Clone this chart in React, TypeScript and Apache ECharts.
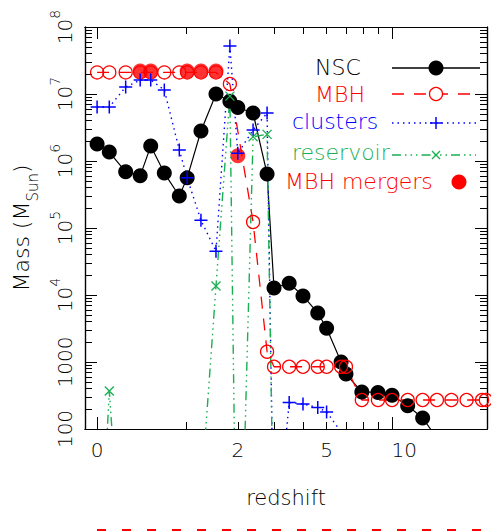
import React, { useEffect, useRef } from "react";
import * as echarts from "echarts";

// Redshift of each snapshot and masses in solar masses
const nscRedshift = [0, 0.1, 0.25, 0.4, 0.52, 0.69, 0.9, 1.02, 1.25, 1.53, 1.82, 2.0, 2.38, 2.77, 2.98, 3.48, 3.99, 4.6, 5.0, 5.72, 5.98, 6.9, 7.96, 9.0, 10.3, 11.7, 13.3];
const nscMass = [1.8e6, 1.36e6, 6.9e5, 6.0e5, 1.67e6, 6.6e5, 3.0e5, 5.6e5, 2.8e6, 1.0e7, 7.8e6, 6.3e6, 5.2e6, 6.4e5, 1.27e4, 1.5e4, 9.7e3, 5.4e3, 3.2e3, 1000, 660, 357, 352, 320, 222, 146, 70];

const mbhRedshift = [0, 0.1, 0.25, 0.4, 0.52, 0.69, 0.9, 1.02, 1.25, 1.53, 1.82, 2.38, 2.77, 2.98, 3.48, 3.99, 4.6, 5.0, 5.72, 5.98, 6.9, 7.96, 9.0, 10.3, 11.7, 13.2, 14.9, 16.9, 19.2, 19.8];
const mbhMass = [2.1e7, 2.1e7, 2.1e7, 2.1e7, 2.1e7, 2.1e7, 2.1e7, 2.1e7, 2.1e7, 2.1e7, 1.41e7, 1.23e5, 1425, 850, 850, 850, 850, 850, 850, 850, 271, 271, 271, 271, 271, 271, 271, 271, 271, 271];

const clusterRedshift = [0, 0.1, 0.25, 0.4, 0.52, 0.69, 0.9, 1.02, 1.25, 1.53, 1.82, 2.0, 2.38, 2.77, 2.98, 3.48, 3.99, 4.6, 5.0, 5.72];
const clusterMass = [6.4e6, 6.4e6, 1.27e7, 1.62e7, 1.62e7, 1.15e7, 1.46e6, 5.6e5, 1.3e5, 4.5e4, 5.2e7, 1.3e6, 2.9e6, 5.2e6, 1, 249, 236, 209, 180, 90];

const reservoirRedshift = [0, 0.1, 0.25, 0.4, 0.52, 0.69, 0.9, 1.02, 1.25, 1.53, 1.82, 2.0, 2.38, 2.77, 2.98];
const reservoirMass = [0.1, 369, 0.1, 0.01, 0.01, 0.01, 0.01, 0.01, 10, 1.36e4, 9.3e6, 0.01, 2.3e6, 2.5e6, 1];

const mergerRedshift = [0.4, 0.52, 1.02, 1.25, 1.53, 2.0];
const mergerMass = [2.2e7, 2.2e7, 2.2e7, 2.2e7, 2.2e7, 1.2e6];

const xTickLabelRedshifts = [0, 2, 5, 10];
const xMinorOnePlusZ = [2, 3, 4, 5, 6, 7, 8, 9];
const xMajorOnePlusZ = [1, 10];
const yLabelExponents = [2, 3, 4, 5, 6, 7, 8];
const yMinorMantissas = [2, 3, 4, 5, 6, 7, 8, 9];

const FONT = "DejaVu Sans";
const FW = 200;
const INK = "#000000";
const RED = "#ff0000";
const BLUE = "#0000ff";
const GREEN = "#18b052";

const lx = (z: number) => Math.log10(1 + z);
const ly = (m: number) => Math.log10(m);
const pairs = (zs: number[], ms: number[]) => zs.map((z, i) => [lx(z), ly(ms[i])]);

const X_MIN = -0.041;
const X_MAX = 1.322;
const Y_MIN = 2;
const Y_MAX = 8;

const xMinor = xMinorOnePlusZ.map((v) => Math.log10(v));
const xMajor = xMajorOnePlusZ.map((v) => Math.log10(v));
const xLabelVals = xTickLabelRedshifts.map(lx);
const yMajor = yLabelExponents.slice();
const yMinor: number[] = [];
for (let n = Y_MIN; n < Y_MAX; n++) for (const k of yMinorMantissas) yMinor.push(n + Math.log10(k));

const axisLineStyle = { color: "#000", width: 1.2 };

function xAxisDef(pos: string, ticks: number[], len: number, main: boolean) {
  const a: any = {
    type: "value",
    position: pos,
    min: X_MIN,
    max: X_MAX,
    axisLine: { show: true, onZero: false, lineStyle: axisLineStyle },
    axisTick: { show: true, inside: true, length: len, customValues: ticks, lineStyle: { color: "#000", width: 1 } },
    axisLabel: { show: false },
    splitLine: { show: false },
  };
  if (main) {
    a.axisLabel = {
      show: true,
      customValues: xLabelVals,
      formatter: (v: number) => {
        const i = xLabelVals.findIndex((t) => Math.abs(t - v) < 1e-6);
        return i >= 0 ? String(xTickLabelRedshifts[i]) : "";
      },
      margin: 11,
      fontSize: 20,
      fontWeight: FW,
      fontFamily: FONT,
      color: INK,
    };
    a.name = "redshift";
    a.nameLocation = "middle";
    a.nameGap = 58;
    a.nameTextStyle = { fontSize: 21, fontWeight: FW, fontFamily: FONT, color: INK };
  }
  return a;
}

function yAxisDef(pos: string, ticks: number[], len: number, main: boolean) {
  const a: any = {
    type: "value",
    position: pos,
    min: Y_MIN,
    max: Y_MAX,
    axisLine: { show: true, onZero: false, lineStyle: axisLineStyle },
    axisTick: { show: true, inside: true, length: len, customValues: ticks, lineStyle: { color: "#000", width: 1 } },
    axisLabel: { show: false },
    splitLine: { show: false },
  };
  if (main) {
    a.axisLabel = {
      show: true,
      customValues: yMajor,
      rotate: 90,
      margin: 10,
      formatter: (v: number) => {
        const e = Math.round(v);
        if (e <= 3) return "{b|" + String(Math.pow(10, e)) + "}";
        return "{b|10}{s|" + e + "}";
      },
      rich: {
        b: { fontSize: 20, fontWeight: FW, lineHeight: 27, verticalAlign: "bottom", fontFamily: FONT, color: INK },
        s: { fontSize: 14, fontWeight: FW, lineHeight: 16, verticalAlign: "top", fontFamily: FONT, color: INK },
      },
    };
    a.name = "{m|Mass (M}{u|Sun}{m|)}";
    a.nameLocation = "middle";
    a.nameRotate = 90;
    a.nameGap = 40;
    a.nameTextStyle = {
      rich: {
        m: { fontSize: 22, fontWeight: FW, lineHeight: 30, verticalAlign: "top", fontFamily: FONT, color: INK },
        u: { fontSize: 15, fontWeight: FW, lineHeight: 12, verticalAlign: "bottom", fontFamily: FONT, color: INK },
      },
    };
  }
  return a;
}

const PLUS = "path://M10,0 L10,20 M0,10 L20,10";
const CROSS = "path://M0,0 L20,20 M0,20 L20,0";
const RESERVOIR_DASH = [9, 4, 1.5, 4, 1.5, 4, 1.5, 4];
const MBH_DASH = [12, 10];
const DOT_DASH = [1.5, 4];

function legendGraphics() {
  const els: any[] = [];
  const txt = (text: string, x: number, y: number, fill: string) =>
    els.push({ type: "text", x, y, silent: true, style: { text, fill, fontSize: 22, fontWeight: FW, fontFamily: FONT, verticalAlign: "middle", align: "left" } });
  const seg = (y: number, stroke: string, dash: any, x2 = 480) =>
    els.push({ type: "line", silent: true, shape: { x1: 392, y1: y, x2, y2: y }, style: { stroke, lineWidth: 1.3, lineDash: dash } });
  // NSC
  txt("NSC", 315, 67, INK);
  seg(68, "#000", null);
  els.push({ type: "circle", silent: true, shape: { cx: 436, cy: 68, r: 7.5 }, style: { fill: "#000" } });
  // MBH
  txt("MBH", 315, 94, RED);
  seg(94, RED, MBH_DASH);
  els.push({ type: "circle", silent: true, shape: { cx: 436, cy: 94, r: 6.5 }, style: { fill: "#fff", stroke: RED, lineWidth: 1.3 } });
  // clusters
  txt("clusters", 292, 121, BLUE);
  seg(123, BLUE, DOT_DASH);
  els.push({ type: "line", silent: true, shape: { x1: 436, y1: 117, x2: 436, y2: 129 }, style: { stroke: BLUE, lineWidth: 1.5 } });
  els.push({ type: "line", silent: true, shape: { x1: 430, y1: 123, x2: 442, y2: 123 }, style: { stroke: BLUE, lineWidth: 1.5 } });
  // reservoir
  txt("reservoir", 292, 152, GREEN);
  seg(155, GREEN, RESERVOIR_DASH, 476);
  els.push({ type: "line", silent: true, shape: { x1: 432, y1: 151, x2: 440, y2: 159 }, style: { stroke: GREEN, lineWidth: 1.3 } });
  els.push({ type: "line", silent: true, shape: { x1: 432, y1: 159, x2: 440, y2: 151 }, style: { stroke: GREEN, lineWidth: 1.3 } });
  // MBH mergers
  txt("MBH mergers", 285, 181, RED);
  els.push({ type: "circle", silent: true, shape: { cx: 459, cy: 182, r: 7.5 }, style: { fill: RED } });
  // clipped red dashes at the bottom edge of the image
  els.push({ type: "line", silent: true, shape: { x1: 97, y1: 530, x2: 491, y2: 530 }, style: { stroke: RED, lineWidth: 2, lineDash: [9, 16] } });
  return els;
}

const option: any = {
  animation: false,
  backgroundColor: "#fff",
  grid: { left: 85, right: 4, top: 27, bottom: 102, containLabel: false, outerBoundsMode: "none" },
  xAxis: [
    xAxisDef("bottom", xMinor, 7, true),
    xAxisDef("top", xMinor, 7, false),
    xAxisDef("bottom", xMajor, 12, false),
    xAxisDef("top", xMajor, 12, false),
  ],
  yAxis: [
    yAxisDef("left", yMinor, 7, true),
    yAxisDef("right", yMinor, 7, false),
    yAxisDef("left", yMajor, 12, false),
    yAxisDef("right", yMajor, 12, false),
  ],
  series: [
    {
      type: "line",
      name: "NSC",
      data: pairs(nscRedshift, nscMass),
      symbol: "circle",
      symbolSize: 15,
      clip: true,
      itemStyle: { color: "#000" },
      lineStyle: { color: "#000", width: 1.2 },
    },
    {
      type: "line",
      name: "MBH",
      data: pairs(mbhRedshift, mbhMass),
      symbol: "circle",
      symbolSize: 13,
      clip: true,
      itemStyle: { color: "transparent", borderColor: RED, borderWidth: 1.3 },
      lineStyle: { color: RED, width: 1.3, type: MBH_DASH },
    },
    {
      type: "line",
      name: "clusters",
      data: pairs(clusterRedshift, clusterMass),
      symbol: PLUS,
      symbolSize: 13,
      clip: true,
      itemStyle: { color: "transparent", borderColor: BLUE, borderWidth: 1.5 },
      lineStyle: { color: BLUE, width: 1.4, type: DOT_DASH },
    },
    {
      type: "line",
      name: "reservoir",
      data: pairs(reservoirRedshift, reservoirMass),
      symbol: CROSS,
      symbolSize: 9,
      clip: true,
      itemStyle: { color: "transparent", borderColor: GREEN, borderWidth: 1.3 },
      lineStyle: { color: GREEN, width: 1.4, type: RESERVOIR_DASH },
    },
    {
      type: "scatter",
      name: "MBH mergers",
      data: pairs(mergerRedshift, mergerMass),
      symbol: "circle",
      symbolSize: 15,
      clip: true,
      itemStyle: { color: RED },
    },
  ],
  graphic: legendGraphics(),
};

export default function App() {
  const ref = useRef<HTMLDivElement>(null);
  useEffect(() => {
    const chart = echarts.init(ref.current as HTMLDivElement, null, { renderer: "svg" });
    chart.setOption(option);
    return () => chart.dispose();
  }, []);
  return (
    <div
      ref={ref}
      style={{ position: "fixed", left: 0, top: 0, width: 491, height: 531, background: "#fff" }}
    />
  );
}
